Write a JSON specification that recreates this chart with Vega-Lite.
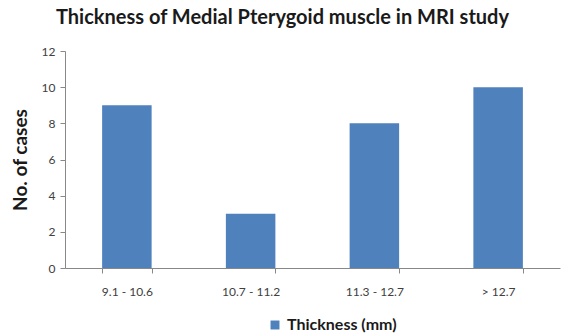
{
  "$schema": "https://vega.github.io/schema/vega-lite/v6.json",
  "width": 495,
  "height": 217,
  "autosize": "none",
  "padding": {"left": 65, "top": 51, "right": 23, "bottom": 67},
  "background": "white",
  "config": {"view": {"stroke": null}, "font": "Lato"},
  "title": {
    "text": "Thickness of Medial Pterygoid muscle in MRI study",
    "font": "Lato",
    "fontSize": 20,
    "fontWeight": "bold",
    "color": "#1a1a1a",
    "anchor": "middle",
    "frame": "group",
    "dx": -30,
    "offset": 17
  },
  "data": {
    "values": [
      {"range": "9.1 - 10.6", "cases": 9, "series": "Thickness (mm)"},
      {"range": "10.7 - 11.2", "cases": 3, "series": "Thickness (mm)"},
      {"range": "11.3 - 12.7", "cases": 8, "series": "Thickness (mm)"},
      {"range": "> 12.7", "cases": 10, "series": "Thickness (mm)"}
    ]
  },
  "mark": {"type": "bar"},
  "encoding": {
    "x": {
      "field": "range",
      "type": "nominal",
      "sort": null,
      "scale": {"paddingInner": 0.6, "paddingOuter": 0.3},
      "axis": {
        "title": null,
        "labelAngle": 0,
        "labelFont": "Lato",
        "labelFontSize": 12,
        "labelColor": "#404040",
        "labelPadding": 13,
        "tickBand": "extent",
        "tickColor": "#888888",
        "tickSize": 5,
        "domainColor": "#888888",
        "grid": false
      }
    },
    "y": {
      "field": "cases",
      "type": "quantitative",
      "scale": {"domain": [0, 12]},
      "axis": {
        "title": "No. of cases",
        "titleFont": "Lato",
        "titleFontSize": 19,
        "titleFontWeight": "bold",
        "titleColor": "#1a1a1a",
        "titlePadding": 11,
        "values": [0, 2, 4, 6, 8, 10, 12],
        "labelFont": "Lato",
        "labelFontSize": 12,
        "labelColor": "#404040",
        "labelPadding": 5,
        "tickColor": "#888888",
        "tickSize": 5,
        "domainColor": "#888888",
        "grid": false
      }
    },
    "color": {
      "field": "series",
      "type": "nominal",
      "scale": {"range": ["#4F81BD"]},
      "legend": {
        "title": null,
        "orient": "none",
        "legendX": 202,
        "legendY": 266,
        "symbolType": "square",
        "symbolSize": 80,
        "labelFont": "Lato",
        "labelFontSize": 16,
        "labelFontWeight": "bold",
        "labelColor": "#1a1a1a"
      }
    }
  }
}
